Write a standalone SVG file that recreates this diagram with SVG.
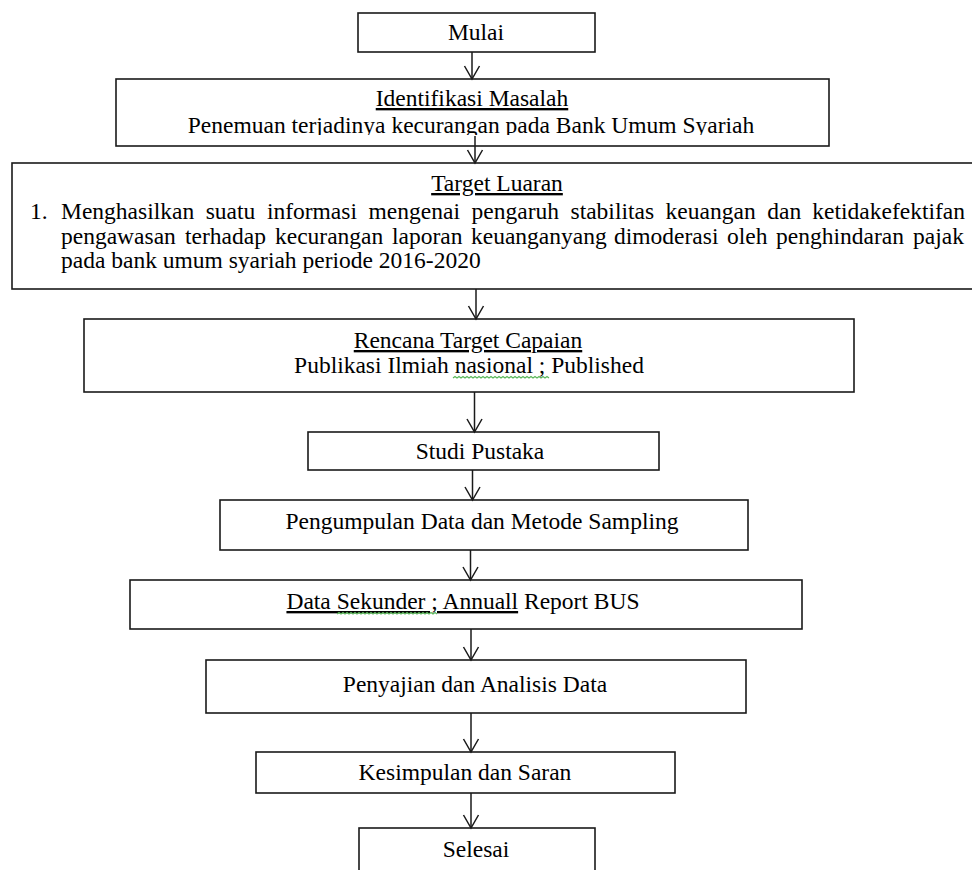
<svg xmlns="http://www.w3.org/2000/svg" width="972" height="870" viewBox="0 0 972 870">
<style>
.box{fill:#fff;stroke:#1a1a1a;stroke-width:1.6}
.t{font-family:"Liberation Serif","Times New Roman",serif;font-size:23.5px;fill:#000}
.c{text-anchor:middle}
.u{text-decoration:underline}
.conn line{stroke:#1a1a1a;stroke-width:1.5;marker-end:url(#arr)}
.sq{fill:none;stroke:#5cb85c;stroke-width:1.2}
</style>
<defs>
<marker id="arr" markerUnits="userSpaceOnUse" markerWidth="18" markerHeight="18" viewBox="0 0 18 18" refX="15" refY="9" orient="auto">
<path d="M2,1.5 L15,9 L2,16.5" fill="none" stroke="#1a1a1a" stroke-width="1.5"/>
</marker>
<clipPath id="clipId"><rect x="116" y="79" width="713" height="56"/></clipPath>
</defs>
<rect width="972" height="870" fill="#fff"/>

<g id="mulai">
<rect class="box" x="358" y="13" width="237" height="39"/>
<text class="t c" x="476" y="40">Mulai</text>
</g>

<g id="identifikasi">
<rect class="box" x="116" y="79" width="713" height="67"/>
<text class="t c u" x="472" y="106">Identifikasi Masalah</text>
<text class="t c" x="471" y="133" clip-path="url(#clipId)">Penemuan terjadinya kecurangan pada Bank Umum Syariah</text>
</g>

<g id="target-luaran">
<rect class="box" x="12" y="163" width="975" height="126"/>
<text class="t c u" x="497" y="191">Target Luaran</text>
<text class="t" x="30" y="219">1.</text>
<text class="t" y="219"><tspan x="61">Menghasilkan</tspan><tspan x="205.7">suatu</tspan><tspan x="266.9">informasi</tspan><tspan x="368.6">mengenai</tspan><tspan x="471.6">pengaruh</tspan><tspan x="570.5">stabilitas</tspan><tspan x="665.6">keuangan</tspan><tspan x="767.3">dan</tspan><tspan x="812.3">ketidakefektifan</tspan></text>
<text class="t" y="244"><tspan x="61">pengawasan</tspan><tspan x="185">terhadap</tspan><tspan x="275">kecurangan</tspan><tspan x="392">laporan</tspan><tspan x="471">keuanganyang</tspan><tspan x="614">dimoderasi</tspan><tspan x="727">oleh</tspan><tspan x="776">penghindaran</tspan><tspan x="913">pajak</tspan></text>
<text class="t" x="61" y="268">pada bank umum syariah periode 2016-2020</text>
</g>

<g id="rencana">
<rect class="box" x="84" y="319" width="770" height="73"/>
<text class="t c u" x="468" y="348">Rencana Target Capaian</text>
<text class="t c" x="469" y="373">Publikasi Ilmiah nasional ; Published</text>
<path class="sq" d="M453,378 l2,-1.5 l2,1.5 l2,-1.5 l2,1.5 l2,-1.5 l2,1.5 l2,-1.5 l2,1.5 l2,-1.5 l2,1.5 l2,-1.5 l2,1.5 l2,-1.5 l2,1.5 l2,-1.5 l2,1.5 l2,-1.5 l2,1.5 l2,-1.5 l2,1.5 l2,-1.5 l2,1.5 l2,-1.5 l2,1.5 l2,-1.5 l2,1.5 l2,-1.5 l2,1.5 l2,-1.5 l2,1.5 l2,-1.5 l2,1.5 l2,-1.5 l2,1.5 l2,-1.5 l2,1.5 l2,-1.5 l2,1.5 l2,-1.5 l2,1.5 l2,-1.5 l2,1.5 l2,-1.5 l2,1.5 l2,-1.5 l2,1.5 l2,-1.5 l2,1.5"/>
</g>

<g id="studi-pustaka">
<rect class="box" x="308" y="432" width="351" height="38"/>
<text class="t c" x="480" y="459">Studi Pustaka</text>
</g>

<g id="pengumpulan">
<rect class="box" x="220" y="500" width="528" height="50"/>
<text class="t c" x="482" y="529">Pengumpulan Data dan Metode Sampling</text>
</g>

<g id="data-sekunder">
<rect class="box" x="130" y="580" width="672" height="49"/>
<text class="t c" x="463" y="609"><tspan class="u">Data Sekunder ; Annuall</tspan> Report BUS</text>
<path class="sq" d="M337,614 l2,-1.5 l2,1.5 l2,-1.5 l2,1.5 l2,-1.5 l2,1.5 l2,-1.5 l2,1.5 l2,-1.5 l2,1.5 l2,-1.5 l2,1.5 l2,-1.5 l2,1.5 l2,-1.5 l2,1.5 l2,-1.5 l2,1.5 l2,-1.5 l2,1.5 l2,-1.5 l2,1.5 l2,-1.5 l2,1.5 l2,-1.5 l2,1.5 l2,-1.5 l2,1.5 l2,-1.5 l2,1.5 l2,-1.5 l2,1.5 l2,-1.5 l2,1.5 l2,-1.5 l2,1.5 l2,-1.5 l2,1.5 l2,-1.5 l2,1.5 l2,-1.5 l2,1.5 l2,-1.5 l2,1.5 l2,-1.5 l2,1.5 l2,-1.5 l2,1.5 l2,-1.5 l2,1.5"/>
</g>

<g id="penyajian">
<rect class="box" x="206" y="660" width="540" height="53"/>
<text class="t c" x="475" y="692">Penyajian dan Analisis Data</text>
</g>

<g id="kesimpulan">
<rect class="box" x="256" y="752" width="419" height="41"/>
<text class="t c" x="465" y="780">Kesimpulan dan Saran</text>
</g>

<g id="selesai">
<rect class="box" x="359" y="828" width="236" height="52"/>
<text class="t c" x="476" y="857">Selesai</text>
</g>

<g id="connectors" class="conn">
<line x1="472" y1="52" x2="472" y2="79"/>
<line x1="475" y1="136" x2="475" y2="163"/>
<line x1="476" y1="289" x2="476" y2="319"/>
<line x1="474.5" y1="392" x2="474.5" y2="432"/>
<line x1="472.5" y1="470" x2="472.5" y2="500"/>
<line x1="470.5" y1="550" x2="470.5" y2="580"/>
<line x1="471" y1="629" x2="471" y2="660"/>
<line x1="471" y1="713" x2="471" y2="752"/>
<line x1="471" y1="793" x2="471" y2="828"/>
</g>
</svg>
